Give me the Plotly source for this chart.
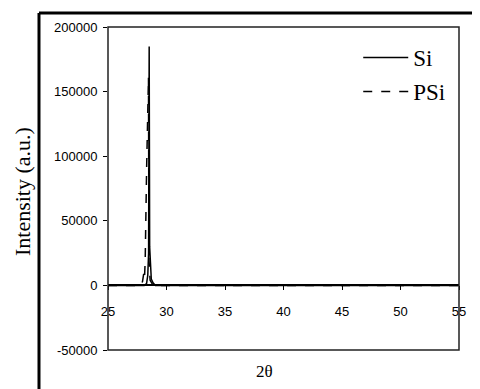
import plotly.graph_objects as go

# Data
si_x = [25, 28.1, 28.3, 28.4, 28.47, 28.52, 28.56, 28.62, 28.7, 28.85, 29.05, 55]
si_y = [0, 0, 1500, 8000, 25000, 185000, 30000, 15000, 5000, 2000, 0, 0]

psi_x = [25, 27.8, 27.95, 28.05, 28.12, 28.18, 28.3, 28.46, 28.5, 28.6, 28.8, 29.0, 55]
psi_y = [0, 0, 3000, 9000, 5000, 20000, 90000, 161000, 20000, 4000, 1000, 0, 0]

x_ticks = [25, 30, 35, 40, 45, 50, 55]
y_ticks = [-50000, 0, 50000, 100000, 150000, 200000]

fig = go.Figure()
fig.add_trace(go.Scatter(x=si_x, y=si_y, mode="lines", name="Si",
                         line=dict(color="black", width=1.5), legendgroup="a"))
fig.add_trace(go.Scatter(x=psi_x, y=psi_y, mode="lines", name="PSi",
                         line=dict(color="black", width=1.5, dash="dash"), legendgroup="b"))

fig.update_layout(
    width=472, height=381,
    margin=dict(l=100, r=21, t=19, b=39, autoexpand=False),
    paper_bgcolor="white", plot_bgcolor="white",
    showlegend=True,
    legend=dict(x=0.975, y=0.972, xanchor="right", yanchor="top",
                bgcolor="rgba(0,0,0,0)", itemwidth=45, tracegroupgap=1,
                font=dict(family="Liberation Serif", size=23, color="black")),
    xaxis=dict(range=[25, 55], tickvals=x_ticks, ticktext=[str(v) for v in x_ticks],
               anchor="free", position=0.2, showline=True, linecolor="black", linewidth=1.5,
               ticks="outside", ticklen=4, tickcolor="black", showgrid=False, zeroline=False,
               automargin=False, ticklabelstandoff=10,
               tickfont=dict(family="Liberation Sans", size=13, color="black")),
    yaxis=dict(range=[-50000, 200000], tickvals=y_ticks, ticktext=[str(v) for v in y_ticks],
               showline=False, ticks="outside", ticklen=4, tickcolor="black",
               showgrid=False, zeroline=False, automargin=False, ticklabelstandoff=3,
               tickfont=dict(family="Liberation Sans", size=13, color="black")),
    annotations=[
        dict(text="Intensity (a.u.)", xref="paper", yref="paper", x=-0.245, y=0.489,
             textangle=-90, showarrow=False, xanchor="center", yanchor="middle",
             font=dict(family="Liberation Serif", size=22, color="black")),
        dict(text="2θ", xref="paper", yref="paper", x=0.447, y=-0.068,
             showarrow=False, xanchor="center", yanchor="middle",
             font=dict(family="Liberation Serif", size=17, color="black")),
    ],
    shapes=[
        dict(type="rect", xref="paper", yref="paper", x0=0, y0=0, x1=1, y1=1,
             line=dict(color="#222", width=1.5)),
        dict(type="line", xref="paper", yref="paper", x0=-0.1966, y0=1.0433, x1=1.1, y1=1.0433,
             line=dict(color="black", width=3)),
        dict(type="line", xref="paper", yref="paper", x0=-0.1966, y0=1.0433, x1=-0.1966, y1=-0.2,
             line=dict(color="black", width=3)),
    ],
)

fig.write_html("out.html")
